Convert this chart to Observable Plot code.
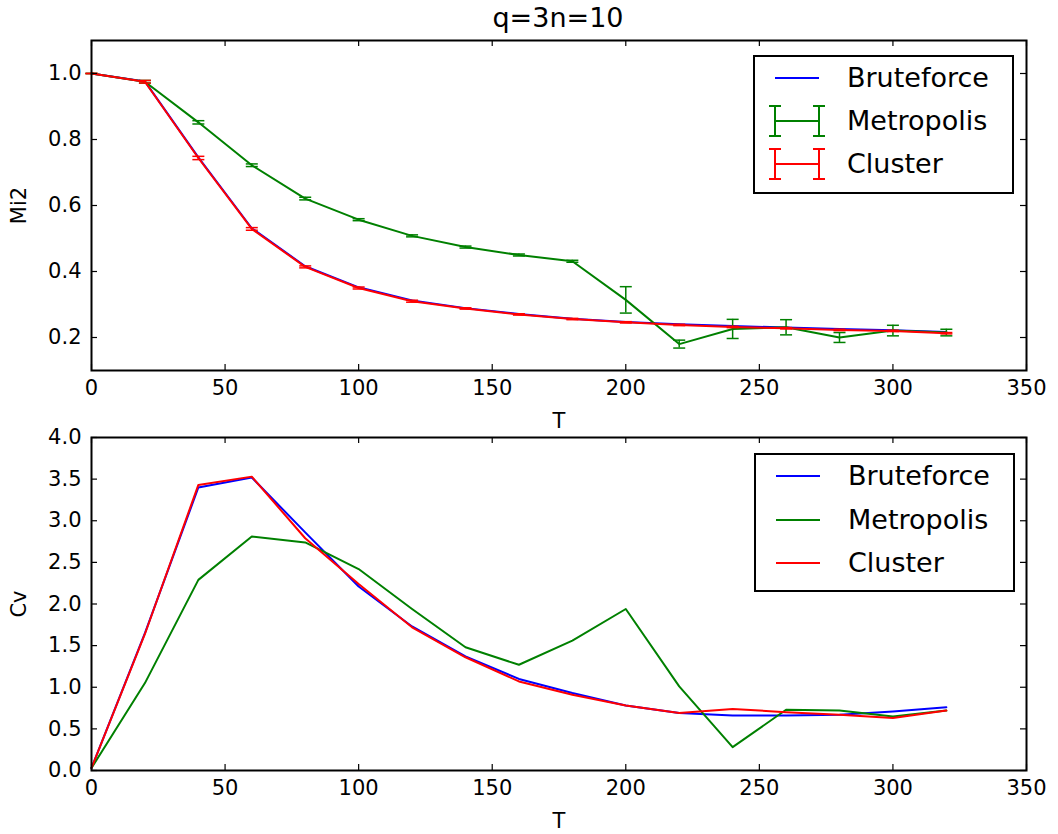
<!DOCTYPE html>
<html>
<head>
<meta charset="utf-8">
<script src="https://cdn.jsdelivr.net/npm/d3@7"></script>
<script src="https://cdn.jsdelivr.net/npm/@observablehq/plot@0.6"></script>
<style>
  html, body { margin: 0; padding: 0; background: #fff; }
  #wrap { position: relative; width: 1058px; height: 834px; background: #fff; font-family: "DejaVu Sans", sans-serif; color: #000; overflow: hidden; }
  #wrap > .chart { position: absolute; left: 0; }
  #title { position: absolute; left: 0; width: 1116px; top: 0; text-align: center; font-size: 27px; line-height: 36px; }
  .legend { position: absolute; background: #fff; border: 2px solid #000; box-sizing: border-box; font-size: 27px; }
  .legend .row { position: absolute; left: 0; height: 40px; width: 100%; }
  .legend .row svg { position: absolute; left: 18px; top: 0; }
  .legend .row span { position: absolute; left: 92px; top: 0; line-height: 40px; white-space: nowrap; }
</style>
</head>
<body>
<div id="wrap">
  <div id="title">q=3n=10</div>
</div>
<script>
// ---- data ----
const T = [0, 20, 40, 60, 80, 100, 120, 140, 160, 180, 200, 220, 240, 260, 280, 300, 320];

const bruteMi2   = [1.000, 0.976, 0.746, 0.531, 0.416, 0.352, 0.312, 0.289, 0.271, 0.257, 0.247, 0.240, 0.235, 0.230, 0.226, 0.222, 0.217];
const metroMi2   = [1.000, 0.975, 0.852, 0.722, 0.621, 0.557, 0.508, 0.474, 0.450, 0.431, 0.314, 0.180, 0.226, 0.231, 0.200, 0.221, 0.215];
const metroErr   = [0.000, 0.004, 0.005, 0.004, 0.004, 0.003, 0.003, 0.003, 0.003, 0.003, 0.040, 0.012, 0.029, 0.023, 0.015, 0.016, 0.010];
const clusterMi2 = [1.000, 0.975, 0.744, 0.529, 0.414, 0.350, 0.310, 0.288, 0.270, 0.256, 0.246, 0.238, 0.232, 0.228, 0.223, 0.220, 0.213];
const clusterErr = [0.000, 0.004, 0.005, 0.004, 0.003, 0.003, 0.003, 0.002, 0.002, 0.002, 0.002, 0.002, 0.002, 0.002, 0.002, 0.002, 0.002];

const bruteCv   = [0.03, 1.65, 3.40, 3.52, 2.86, 2.21, 1.73, 1.37, 1.10, 0.93, 0.78, 0.69, 0.66, 0.66, 0.67, 0.71, 0.76];
const metroCv   = [0.03, 1.05, 2.29, 2.81, 2.74, 2.42, 1.94, 1.48, 1.27, 1.56, 1.94, 1.01, 0.28, 0.73, 0.72, 0.65, 0.72];
const clusterCv = [0.03, 1.64, 3.43, 3.53, 2.79, 2.24, 1.72, 1.36, 1.07, 0.91, 0.78, 0.69, 0.74, 0.70, 0.67, 0.63, 0.72];

const seriesNames = ["Bruteforce", "Metropolis", "Cluster"];
const seriesColors = ["#0000ff", "#008000", "#ff0000"];

const xTicks = [0, 50, 100, 150, 200, 250, 300, 350];
const mi2Ticks = [0.2, 0.4, 0.6, 0.8, 1.0];
const cvTicks = [0.0, 0.5, 1.0, 1.5, 2.0, 2.5, 3.0, 3.5, 4.0];

// ---- helpers ----
const rows = (ys, errs) => T.map((t, i) => ({T: t, v: ys[i], e: errs ? errs[i] : 0}));
const capSymbol = { draw(ctx) { ctx.moveTo(-6, 0); ctx.lineTo(6, 0); } };
const W = 1058, ML = 91, MR = 32;

function innerTicks(xt, yt, plotH, plotW) {
  const s = {stroke: "#000", strokeWidth: 1.2};
  return [
    Plot.ruleX(xt, {x: d => d, insetTop: plotH - 6, ...s}),
    Plot.ruleX(xt, {x: d => d, insetBottom: plotH - 6, ...s}),
    Plot.ruleY(yt, {y: d => d, insetRight: plotW - 6, ...s}),
    Plot.ruleY(yt, {y: d => d, insetLeft: plotW - 6, ...s})
  ];
}

function errorMarks(data, color) {
  return [
    Plot.ruleX(data, {x: "T", y1: d => d.v - d.e, y2: d => d.v + d.e, stroke: color, strokeWidth: 1.5}),
    Plot.dot(data, {x: "T", y: d => d.v + d.e, symbol: capSymbol, r: 3, fill: "none", stroke: color, strokeWidth: 1.5}),
    Plot.dot(data, {x: "T", y: d => d.v - d.e, symbol: capSymbol, r: 3, fill: "none", stroke: color, strokeWidth: 1.5})
  ];
}

const chartStyle = {fontFamily: "DejaVu Sans", fontSize: "21px", color: "#000", background: "transparent", overflow: "visible"};

// ---- top chart ----
const topH = 430, topMT = 40, topMB = 60;
const topPlotH = topH - topMT - topMB, plotW = W - ML - MR;
const bd = rows(bruteMi2), md = rows(metroMi2, metroErr), cd = rows(clusterMi2, clusterErr);
const topChart = Plot.plot({
  width: W, height: topH, marginLeft: ML, marginRight: MR, marginTop: topMT, marginBottom: topMB,
  style: chartStyle,
  x: {domain: [0, 350]},
  y: {domain: [0.1, 1.1]},
  marks: [
    Plot.line(bd, {x: "T", y: "v", stroke: seriesColors[0], strokeWidth: 2}),
    Plot.line(md, {x: "T", y: "v", stroke: seriesColors[1], strokeWidth: 2}),
    ...errorMarks(md, seriesColors[1]),
    Plot.line(cd, {x: "T", y: "v", stroke: seriesColors[2], strokeWidth: 2}),
    ...errorMarks(cd, seriesColors[2]),
    ...innerTicks(xTicks, mi2Ticks, topPlotH, plotW),
    Plot.frame({stroke: "#000", strokeWidth: 2}),
    Plot.axisX({ticks: xTicks, tickSize: 0, tickPadding: 10, tickFormat: d => String(d), label: "T", labelAnchor: "center", labelArrow: "none", labelOffset: 57}),
    Plot.axisY({ticks: mi2Ticks, tickSize: 0, tickPadding: 10, tickFormat: d => d.toFixed(1), label: "Mi2", labelAnchor: "center", labelArrow: "none", labelOffset: 80})
  ]
});
topChart.classList.add("chart");
topChart.style.top = "0px";

// ---- bottom chart ----
const botH = 404, botMT = 7, botMB = 64;
const botPlotH = botH - botMT - botMB;
const botChart = Plot.plot({
  width: W, height: botH, marginLeft: ML, marginRight: MR, marginTop: botMT, marginBottom: botMB,
  style: chartStyle,
  x: {domain: [0, 350]},
  y: {domain: [0, 4]},
  marks: [
    Plot.line(rows(bruteCv), {x: "T", y: "v", stroke: seriesColors[0], strokeWidth: 2}),
    Plot.line(rows(metroCv), {x: "T", y: "v", stroke: seriesColors[1], strokeWidth: 2}),
    Plot.line(rows(clusterCv), {x: "T", y: "v", stroke: seriesColors[2], strokeWidth: 2}),
    ...innerTicks(xTicks, cvTicks, botPlotH, plotW),
    Plot.frame({stroke: "#000", strokeWidth: 2}),
    Plot.axisX({ticks: xTicks, tickSize: 0, tickPadding: 10, tickFormat: d => String(d), label: "T", labelAnchor: "center", labelArrow: "none", labelOffset: 57}),
    Plot.axisY({ticks: cvTicks, tickSize: 0, tickPadding: 10, tickFormat: d => d.toFixed(1), label: "Cv", labelAnchor: "center", labelArrow: "none", labelOffset: 80})
  ]
});
botChart.classList.add("chart");
botChart.style.top = "430px";

const wrap = document.getElementById("wrap");
wrap.appendChild(topChart);
wrap.appendChild(botChart);

// ---- legends ----
function legend(left, topPx, withErr, rowTops) {
  const box = document.createElement("div");
  box.className = "legend";
  Object.assign(box.style, {left: left + "px", top: topPx + "px", width: "261px", height: "139px"});
  seriesNames.forEach((name, i) => {
    const row = document.createElement("div");
    row.className = "row";
    row.style.top = rowTops[i] + "px";
    const c = seriesColors[i];
    const err = withErr && i > 0;
    row.innerHTML =
      `<svg width="50" height="40" viewBox="0 0 50 40">` +
      `<line x1="2" y1="20" x2="46" y2="20" stroke="${c}" stroke-width="2"/>` +
      (err ? `<line x1="2" y1="5" x2="2" y2="35" stroke="${c}" stroke-width="2"/><line x1="46" y1="5" x2="46" y2="35" stroke="${c}" stroke-width="2"/>` +
             `<line x1="-4" y1="5" x2="8" y2="5" stroke="${c}" stroke-width="2"/><line x1="-4" y1="35" x2="8" y2="35" stroke="${c}" stroke-width="2"/>` +
             `<line x1="40" y1="5" x2="52" y2="5" stroke="${c}" stroke-width="2"/><line x1="40" y1="35" x2="52" y2="35" stroke="${c}" stroke-width="2"/>` : "") +
      `</svg><span>${name}</span>`;
    row.querySelector("svg").style.overflow = "visible";
    box.appendChild(row);
  });
  wrap.appendChild(box);
}
legend(753, 55, true, [1, 44, 87]);
legend(754, 453, false, [1, 45, 88]);
</script>
</body>
</html>
